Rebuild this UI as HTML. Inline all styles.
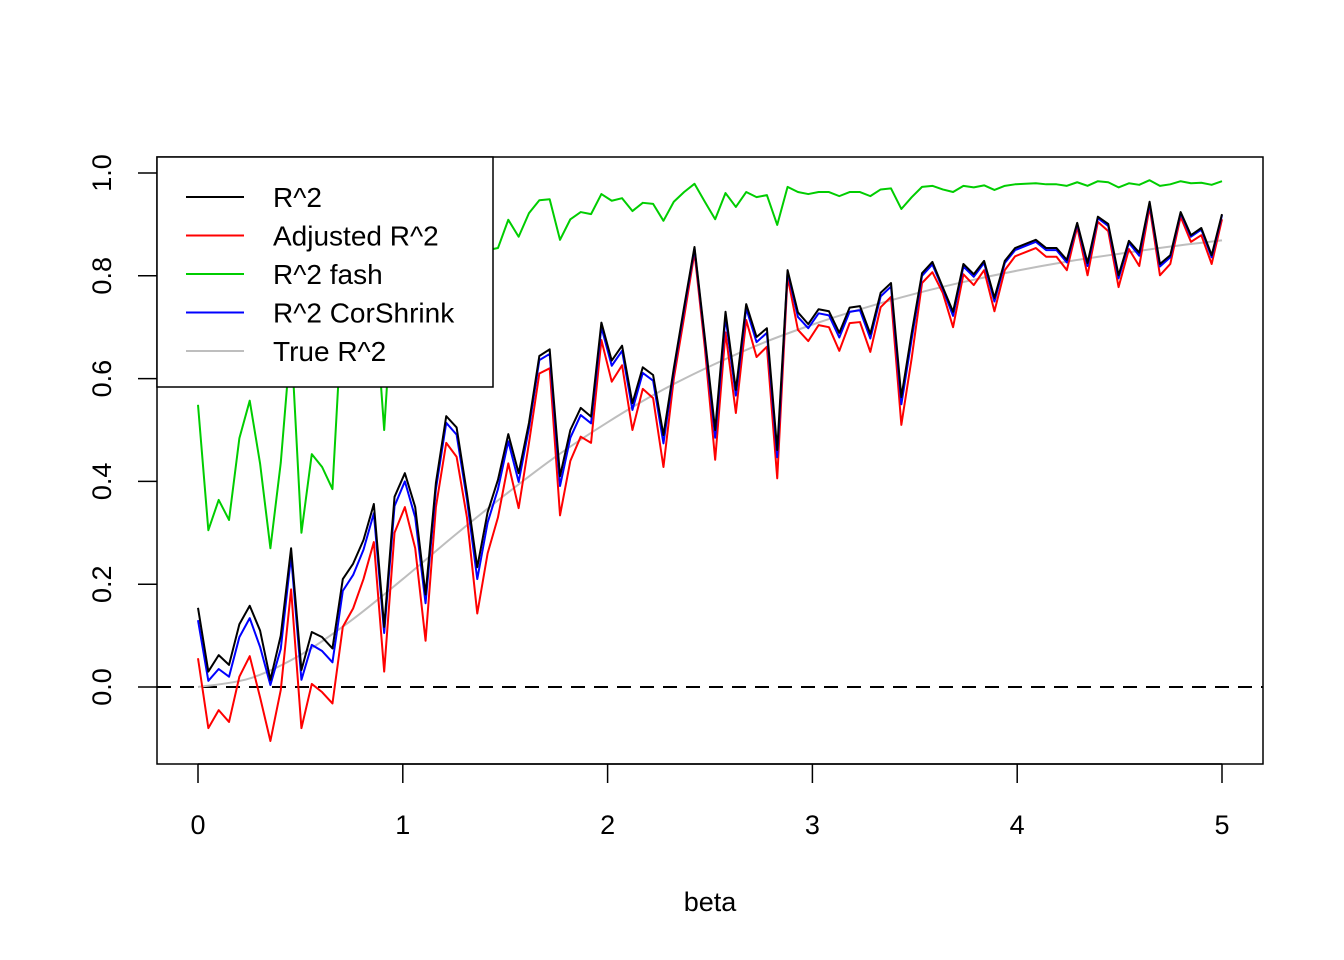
<!DOCTYPE html>
<html><head><meta charset="utf-8"><style>
html,body{margin:0;padding:0;background:#fff;}
svg{display:block;font-family:"Liberation Sans",Arial,sans-serif;}
</style></head><body>
<svg id="chart" width="1344" height="960" viewBox="0 0 1344 960" xmlns="http://www.w3.org/2000/svg">
<rect width="1344" height="960" fill="#fff"/>
<defs><clipPath id="pc"><rect x="157" y="157" width="1106" height="607"/></clipPath></defs>
<g id="series" clip-path="url(#pc)"></g>
<g id="axes"></g>
<g id="legend"></g>
</svg>
<script>
const nPoints = 100;
const betaMax = 5;
const r2Values = [.154,.03,.062,.043,.122,.158,.11,.014,.10,.27,.033,.107,.097,.075,.21,.24,.286,.356,.117,.37,.416,
.35,.18,.397,.527,.505,.377,.233,.34,.403,.492,.416,.514,.644,.657,.41,.5,.543,.526,.709,.635,.664,
.552,.622,.607,.49,.62,.74,.856,.68,.5,.73,.578,.745,.681,.698,.461,.811,.729,.706,.735,.731,.689,.738,
.741,.687,.767,.786,.564,.689,.805,.827,.778,.73,.823,.803,.829,.757,.829,.854,.862,.87,
.854,.854,.831,.903,.825,.915,.901,.801,.868,.845,.944,.823,.84,.924,.879,.893,.84,.92];
const adjR2Values = [.056,-.08,-.045,-.068,.02,.06,-.02,-.105,-.006,.19,-.08,.006,-.01,-.032,.117,.153,.21,.282,.03,.30,.35,
.27,.09,.35,.475,.448,.33,.143,.26,.33,.435,.348,.475,.61,.62,.334,.44,.487,.475,.675,.594,.626,
.50,.58,.562,.428,.6,.72,.845,.66,.442,.69,.533,.714,.642,.662,.406,.798,.695,.673,.704,.70,.654,.708,
.71,.652,.739,.759,.51,.64,.786,.807,.767,.70,.803,.782,.811,.731,.811,.838,.846,.854,
.837,.837,.811,.895,.801,.905,.887,.778,.852,.819,.934,.801,.823,.915,.866,.879,.823,.910];
const fashValues = [.549,.305,.364,.325,.484,.557,.435,.27,.436,.68,.30,.453,.428,.385,
.75,.8,.72,.78,.50,.82,.85,.8,.7,.83,.86,.84,.88,.8,.85,
.854,.909,.876,.922,.947,.949,.87,.91,.924,.92,.959,.946,.951,.926,
.942,.94,.907,.944,.963,.979,.944,.91,.961,.934,.963,.953,.957,.899,.973,.963,.959,.963,.963,.955,.963,
.963,.955,.968,.97,.93,.953,.973,.975,.968,.963,.975,.972,.976,.967,.975,.978,.979,.98,
.978,.978,.975,.982,.975,.984,.982,.972,.98,.977,.986,.975,.978,.984,.98,.981,.977,.984];
const corShrinkValues = [.13,.012,.035,.02,.097,.134,.078,.004,.074,.255,.014,.082,.07,.048,.187,.218,.267,.338,.105,.352,.40,
.33,.163,.385,.514,.491,.365,.21,.32,.385,.478,.399,.504,.636,.648,.391,.485,.529,.513,.70,.625,.654,
.539,.611,.596,.474,.615,.735,.853,.675,.485,.72,.567,.737,.671,.689,.447,.808,.72,.698,.727,.723,.68,.73,
.733,.678,.76,.779,.55,.677,.80,.822,.775,.722,.818,.798,.825,.75,.825,.85,.858,.866,
.85,.85,.826,.901,.819,.912,.897,.795,.864,.839,.941,.818,.836,.922,.876,.89,.836,.918];
const trueBeta = [0,.25,.5,.75,1,1.25,1.5,1.75,2,2.25,2.5,2.75,3,3.25,3.5,3.75,4,4.25,4.5,4.75,5];
const trueR2 = [0,.0164,.0623,.130,.210,.294,.374,.449,.515,.574,.624,.668,.705,.737,.765,.789,.810,.828,.843,.857,.869];
const xTicks = [0,1,2,3,4,5];
const yTicks = [0,0.2,0.4,0.6,0.8,1.0];
const yTickLabels = ["0.0","0.2","0.4","0.6","0.8","1.0"];

const NS = "http://www.w3.org/2000/svg";
function X(v){ return 198 + v*(1222-198)/5; }
function Y(v){ return 687 - v*514; }
function mk(tag, attrs, parent){ const e=document.createElementNS(NS,tag); for(const k in attrs) e.setAttribute(k,attrs[k]); parent.appendChild(e); return e; }
const series = document.getElementById('series');
const axes = document.getElementById('axes');
const legend = document.getElementById('legend');

const dz = mk('line',{x1:157,x2:1263,y1:Y(0),y2:Y(0),stroke:'#000','stroke-width':2,'stroke-dasharray':'14 9'},series);



function betaAt(i){ return i*betaMax/(nPoints-1); }
function drawSeries(vals, color, name){
  const pts = vals.map((v,i)=>X(betaAt(i)).toFixed(2)+','+Y(v).toFixed(2)).join(' ');
  const p = mk('polyline',{points:pts,fill:'none',stroke:color,'stroke-width':2,'stroke-linejoin':'round'},series);
  
  
}
// true curve (smooth)
(function(){
  let d='M'+X(trueBeta[0])+','+Y(trueR2[0]);
  for(let i=0;i<trueBeta.length-1;i++){
    const p0=[X(trueBeta[Math.max(i-1,0)]),Y(trueR2[Math.max(i-1,0)])];
    const p1=[X(trueBeta[i]),Y(trueR2[i])];
    const p2=[X(trueBeta[i+1]),Y(trueR2[i+1])];
    const p3=[X(trueBeta[Math.min(i+2,trueBeta.length-1)]),Y(trueR2[Math.min(i+2,trueBeta.length-1)])];
    const c1=[p1[0]+(p2[0]-p0[0])/6,p1[1]+(p2[1]-p0[1])/6];
    const c2=[p2[0]-(p3[0]-p1[0])/6,p2[1]-(p3[1]-p1[1])/6];
    d+=' C'+c1.join(',')+' '+c2.join(',')+' '+p2.join(',');
  }
  const t=mk('path',{d:d,fill:'none',stroke:'#bebebe','stroke-width':2},series);
  
  
})();
drawSeries(fashValues,'#00cd00','r2-fash-line');
drawSeries(adjR2Values,'#ff0000','adjusted-r2-line');
drawSeries(corShrinkValues,'#0000ff','r2-corshrink-line');
drawSeries(r2Values,'#000000','r2-line');

// axes
const box = mk('rect',{x:157,y:157,width:1106,height:607,fill:'none',stroke:'#000','stroke-width':1.5},axes);


const xl = mk('line',{x1:X(0),x2:X(5),y1:764,y2:764,stroke:'#000','stroke-width':1.5},axes);


xTicks.forEach(v=>{
  const t=mk('line',{x1:X(v),x2:X(v),y1:764,y2:783,stroke:'#000','stroke-width':1.5},axes);
  
  
  const l=mk('text',{x:X(v),y:834,'text-anchor':'middle','font-size':27,fill:'#000'},axes);
  l.textContent=String(v);
  
  
});
yTicks.forEach((v,i)=>{
  const t=mk('line',{x1:138,x2:157,y1:Y(v),y2:Y(v),stroke:'#000','stroke-width':1.5},axes);
  
  
  const l=mk('text',{x:0,y:0,transform:'translate(111,'+Y(v)+') rotate(-90)','text-anchor':'middle','font-size':27,fill:'#000'},axes);
  l.textContent=yTickLabels[i];
  
  
});
const xt = mk('text',{x:710,y:911,'text-anchor':'middle','font-size':27,fill:'#000'},axes);
xt.textContent='beta';



// legend
const lb = mk('rect',{x:157,y:157,width:336,height:230,fill:'#fff',stroke:'#000','stroke-width':1.5},legend);


const legNames = ['R^2','Adjusted R^2','R^2 fash','R^2 CorShrink','True R^2'];
const legColors = ['#000000','#ff0000','#00cd00','#0000ff','#bebebe'];
legNames.forEach((n,i)=>{
  const y = 197 + i*38.5;
  const g = mk('g',{},legend);
  
  
  mk('line',{x1:186,x2:244,y1:y,y2:y,stroke:legColors[i],'stroke-width':2},g);
  const t=mk('text',{x:273,y:y+10,'font-size':28,fill:'#000'},g);
  t.textContent=n;
});
</script>
</body></html>
